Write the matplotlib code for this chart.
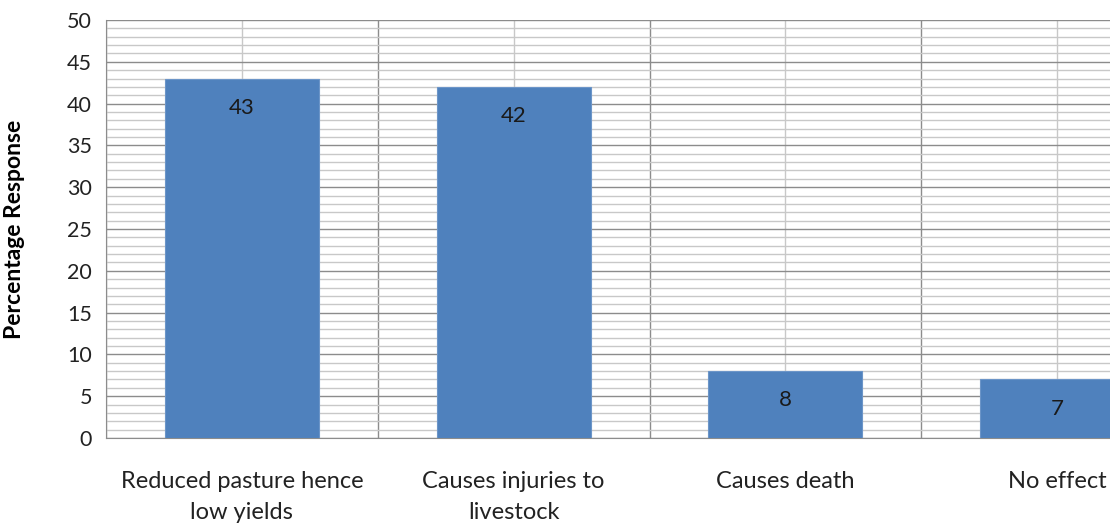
import matplotlib
matplotlib.use("Agg")
import matplotlib.pyplot as plt
from matplotlib.ticker import MultipleLocator, FixedLocator
import numpy as np

categories = ["Reduced pasture hence\nlow yields", "Causes injuries to\nlivestock",
              "Causes death", "No effect"]
values = [43, 42, 8, 7]

plt.rcParams['font.family'] = ['Lato', 'DejaVu Sans']

fig = plt.figure(figsize=(11.1, 5.25), dpi=100)
# plot area runs past the right edge of the canvas
ax = fig.add_axes([106/1110, 87/525, 1087/1110, 418/525])

x = np.arange(len(values))
bars = ax.bar(x, values, width=0.567, color="#4F81BD", edgecolor="#6C95C8",
              linewidth=0.8, zorder=3)

ax.set_xlim(-0.5, len(values) - 0.5)
ax.set_ylim(0, 50)

ax.yaxis.set_major_locator(MultipleLocator(5))
ax.yaxis.set_minor_locator(MultipleLocator(1))
ax.xaxis.set_major_locator(FixedLocator(x))
ax.xaxis.set_minor_locator(FixedLocator(np.arange(len(values) + 1) - 0.5))

ax.grid(which="minor", axis="y", color="#c8c8c8", linewidth=1.0, zorder=0)
ax.grid(which="major", axis="y", color="#8c8c8c", linewidth=1.0, zorder=1)
ax.grid(which="major", axis="x", color="#c8c8c8", linewidth=1.0, zorder=0)
ax.grid(which="minor", axis="x", color="#8c8c8c", linewidth=1.0, zorder=1)

for s in ["top", "right"]:
    ax.spines[s].set_visible(False)
ax.spines["left"].set_color("#8c8c8c")
ax.spines["bottom"].set_color("#8c8c8c")

ax.set_xticks(x)
ax.set_xticklabels(categories, fontsize=17, color="#222222", linespacing=1.55)
ax.tick_params(axis="x", which="both", length=0, pad=24)
ax.tick_params(axis="y", which="both", length=0, labelsize=15.5, labelcolor="#222222", pad=10)

ax.set_ylabel("Percentage Response", fontsize=16.5, fontweight="bold", labelpad=30)

for xi, v in zip(x, values):
    ax.annotate(str(v), (xi, v), xytext=(0, -21), textcoords="offset points",
                ha="center", va="center", fontsize=16, color="#1a1a1a", zorder=4)

fig.savefig("out.png", dpi=100)
